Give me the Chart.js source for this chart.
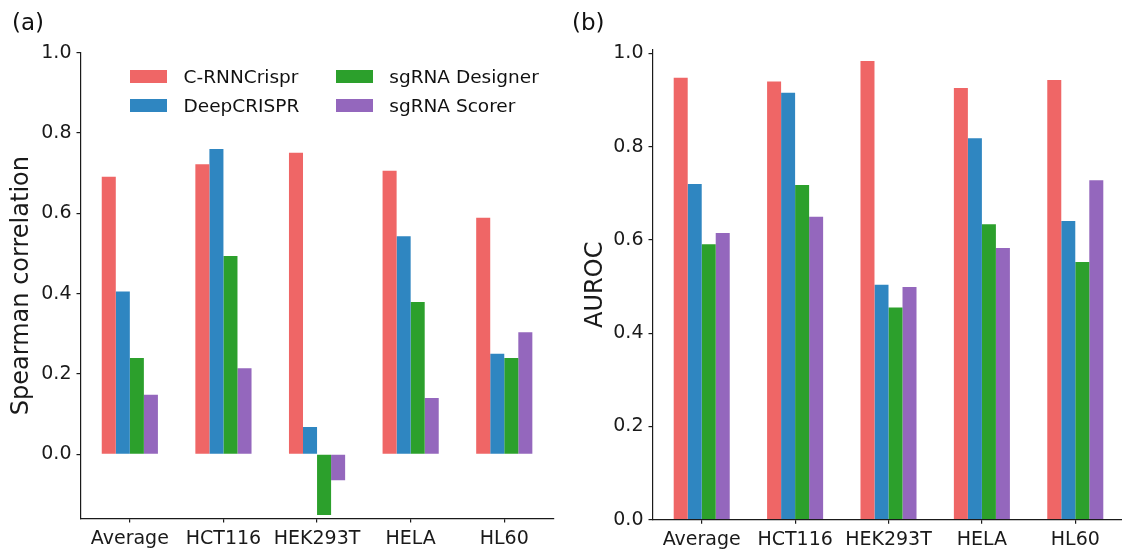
<!DOCTYPE html>
<html lang="en">
<head>
  <meta charset="UTF-8" />
  <title>C-RNNCrispr comparison</title>
  <script src="https://cdn.jsdelivr.net/npm/chart.js"></script>
  <style>
    body { margin: 0; background: #fff; overflow: hidden; font-family: "DejaVu Sans", sans-serif; }
    #wrap { position: relative; width: 1122px; height: 551px; overflow: hidden; }
    canvas { position: absolute; top: 0; }
    .panel { position: absolute; font-size: 23px; line-height: 23px; color: #111; }
    .leg { position: absolute; display: flex; align-items: center; height: 29px; font-size: 18.5px; color: #111; white-space: nowrap; }
    .leg i { display: inline-block; width: 37px; height: 13px; margin-right: 16.6px; }
  </style>
</head>
<body>
<div id="wrap">
  <canvas id="chartA" width="560" height="551" style="left:0"></canvas>
  <canvas id="chartB" width="566" height="551" style="left:560px"></canvas>
  <div class="panel" style="left:12px; top:11px">(a)</div>
  <div class="panel" style="left:572px; top:11px">(b)</div>
  <div id="legend"></div>
</div>

<script>
  // categories and methods
  const categories = ['Average', 'HCT116', 'HEK293T', 'HELA', 'HL60'];
  const methods = ['C-RNNCrispr', 'DeepCRISPR', 'sgRNA Designer', 'sgRNA Scorer'];
  const colors = ['#ef6666', '#2f86c1', '#2ca02c', '#9467bd'];

  // (a) Spearman correlation
  const spearmanCRNN = [0.691, 0.722, 0.751, 0.706, 0.589];
  const spearmanDeep = [0.405, 0.760, 0.068, 0.543, 0.250];
  const spearmanDesigner = [0.240, 0.494, -0.151, 0.379, 0.240];
  const spearmanScorer = [0.148, 0.214, -0.065, 0.140, 0.304];
  const spearmanTicks = [0.0, 0.2, 0.4, 0.6, 0.8, 1.0];

  // (b) AUROC
  const aurocCRNN = [0.948, 0.940, 0.984, 0.926, 0.943];
  const aurocDeep = [0.720, 0.916, 0.504, 0.818, 0.641];
  const aurocDesigner = [0.591, 0.718, 0.455, 0.634, 0.553];
  const aurocScorer = [0.615, 0.650, 0.499, 0.583, 0.728];
  const aurocTicks = [0.0, 0.2, 0.4, 0.6, 0.8, 1.0];

  const font = 'DejaVu Sans';
  const ink = '#1a1a1a';

  function datasets(series) {
    return series.map((vals, k) => ({
      label: methods[k],
      data: vals.map((v, i) => ({ x: i, y: v })),
      backgroundColor: colors[k],
      borderWidth: 0,
      categoryPercentage: 0.6,
      barPercentage: 1.0
    }));
  }

  function makeChart(id, series, yTicks, yMin, yMax, yTitle, opt) {
    new Chart(document.getElementById(id), {
      type: 'bar',
      data: { datasets: datasets(series) },
      options: {
        responsive: false,
        animation: false,
        devicePixelRatio: 1,
        layout: { padding: { top: opt.top, right: opt.right, left: 0, bottom: 0 } },
        plugins: { legend: { display: false }, tooltip: { enabled: false } },
        scales: {
          x: {
            type: 'linear',
            min: -0.527, max: 4.527,
            offset: false,
            afterBuildTicks: s => { s.ticks = categories.map((c, i) => ({ value: i })); },
            afterFit: s => { s.height = opt.xh; },
            ticks: {
              callback: v => categories[v],
              font: { family: font, size: 19 }, color: ink, padding: 5,
              maxRotation: 0, autoSkip: false
            },
            grid: { offset: false, drawOnChartArea: false, tickLength: 4, color: ink, lineWidth: 1.2 },
            border: { display: true, color: ink, width: 1.2 }
          },
          y: {
            min: yMin, max: yMax,
            afterBuildTicks: s => { s.ticks = yTicks.map(v => ({ value: v })); },
            afterFit: s => { s.width = opt.yw; },
            ticks: {
              callback: v => v.toFixed(1),
              font: { family: font, size: 19 }, color: ink, padding: 5
            },
            grid: { drawOnChartArea: false, tickLength: 4, color: ink, lineWidth: 1.2 },
            border: { display: true, color: ink, width: 1.2 },
            title: {
              display: true, text: yTitle, color: ink,
              font: { family: font, size: 24 },
              padding: { top: opt.tp, bottom: 0 }
            }
          }
        }
      }
    });
  }

  makeChart('chartA',
    [spearmanCRNN, spearmanDeep, spearmanDesigner, spearmanScorer],
    spearmanTicks, -0.16, 1.0, 'Spearman correlation',
    { top: 52.7, right: 6.4, yw: 80.5, xh: 32.5, tp: 7.6 });

  makeChart('chartB',
    [aurocCRNN, aurocDeep, aurocDesigner, aurocScorer],
    aurocTicks, 0, 1.008, 'AUROC',
    { top: 49.8, right: 1.5, yw: 92.5, xh: 31.3, tp: 21.1 });

  // legend inside panel (a), two columns
  const legend = document.getElementById('legend');
  const colX = [130, 335.7];
  const rowY = [76.7, 105.5];
  methods.forEach((m, k) => {
    const el = document.createElement('div');
    el.className = 'leg';
    el.style.left = colX[Math.floor(k / 2)] + 'px';
    el.style.top = (rowY[k % 2] - 14.5) + 'px';
    el.innerHTML = '<i style="background:' + colors[k] + '"></i>' + m;
    legend.appendChild(el);
  });
</script>
</body>
</html>
